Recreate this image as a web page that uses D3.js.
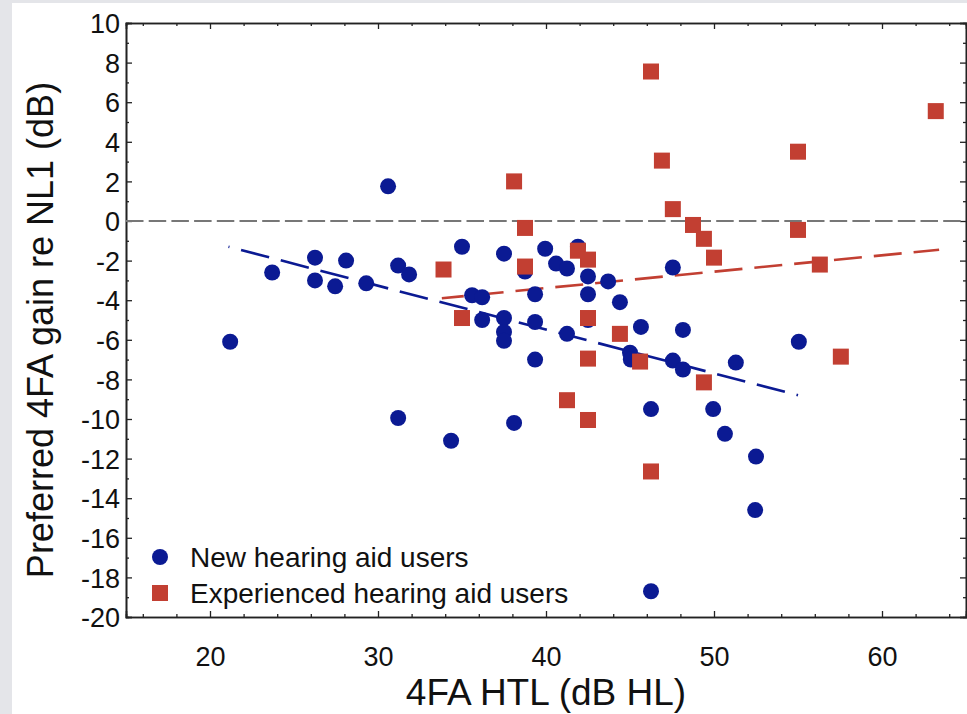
<!DOCTYPE html>
<html>
<head>
<meta charset="utf-8">
<script src="https://cdn.jsdelivr.net/npm/d3@7"></script>
<style>
  body { margin: 0; background: #e4e5e9; }
  svg { display: block; }
</style>
</head>
<body>
<svg id="chart" width="967" height="714"></svg>
<script>
// [4FA HTL, preferred gain re NL1]
const newUsers = [
  [21.2, -6.1], [23.7, -2.6], [26.25, -1.85], [26.25, -3.0], [27.45, -3.3],
  [28.1, -2.0], [29.3, -3.15], [30.6, 1.75], [31.2, -2.25], [31.85, -2.7],
  [31.2, -9.95], [34.35, -11.1], [35.0, -1.3], [35.6, -3.75], [36.2, -3.85],
  [36.2, -5.0], [37.5, -1.65], [37.5, -4.9], [37.5, -5.6], [37.5, -6.05],
  [38.1, -10.2], [38.75, -2.55], [39.35, -3.7], [39.35, -5.1], [39.35, -7.0],
  [39.95, -1.4], [40.6, -2.15], [41.25, -2.4], [41.25, -5.7], [41.9, -1.3],
  [42.5, -2.8], [42.5, -3.7], [42.5, -5.0], [43.7, -3.05], [44.4, -4.1],
  [45.0, -6.65], [45.05, -7.0], [45.65, -5.35], [46.25, -9.5], [46.25, -18.7],
  [47.55, -2.35], [47.55, -7.05], [48.15, -5.5], [48.15, -7.5], [49.95, -9.5],
  [50.65, -10.75], [51.3, -7.15], [52.5, -11.9], [52.45, -14.6], [55.05, -6.1]
];
const expUsers = [
  [33.9, -2.45], [35.0, -4.9], [38.1, 2.0], [38.75, -0.35], [38.75, -2.3],
  [41.25, -9.05], [41.9, -1.5], [42.5, -1.95], [42.5, -4.9], [42.5, -6.95],
  [42.5, -10.05], [44.4, -5.7], [45.6, -7.1], [46.25, 7.55], [46.25, -12.65],
  [46.9, 3.05], [47.55, 0.6], [48.75, -0.2], [49.4, -0.9], [49.4, -8.15],
  [50.0, -1.85], [55.0, 3.5], [55.0, -0.45], [56.3, -2.2], [57.55, -6.85],
  [63.2, 5.55]
];
// fitted trend lines (end points)
const fitNew = [[21.1, -1.3], [55.0, -8.8]];
const fitExp = [[33.8, -3.9], [63.4, -1.45]];

const xTicks = [20, 30, 40, 50, 60];
const xMinor = [16, 18, 22, 24, 26, 28, 32, 34, 36, 38, 42, 44, 46, 48, 52, 54, 56, 58, 62, 64];
const yTicks = [-20, -18, -16, -14, -12, -10, -8, -6, -4, -2, 0, 2, 4, 6, 8, 10];
const yMinor = [-19, -17, -15, -13, -11, -9, -7, -5, -3, -1, 1, 3, 5, 7, 9];

const legendLabels = ['New hearing aid users', 'Experienced hearing aid users'];
const blue = '#0b1a93';
const red = '#c23f32';

(() => {
  const margin = {top: 23, right: 1, bottom: 97, left: 126};
  const totalWidth = 967;
  const totalHeight = 714;
  const w = totalWidth - margin.left - margin.right;
  const h = totalHeight - margin.top - margin.bottom;

  const svg = d3.select('#chart');
  svg.append('rect')
    .attr('x', 12).attr('y', 3)
    .attr('width', totalWidth - 12).attr('height', totalHeight - 3)
    .attr('fill', '#fff');

  const g = svg.append('g').attr('transform', 'translate(' + margin.left + ',' + margin.top + ')');

  const x = d3.scaleLinear().domain([15, 65]).range([0, w]);
  const y = d3.scaleLinear().domain([-20, 10]).range([h, 0]);

  const font = 'Arial, "Liberation Sans", sans-serif';
  const tickFont = '"Liberation Sans Narrow", "Arial Narrow", Arial, sans-serif';
  const plain = d => String(d);   // hyphen minus, like the original

  // minor ticks
  g.append('g').attr('transform', 'translate(0,' + h + ')')
    .call(d3.axisBottom(x).tickValues(xMinor).tickSize(-3).tickFormat(''));
  g.append('g')
    .call(d3.axisTop(x).tickValues(xMinor).tickSize(-3).tickFormat(''));
  g.append('g')
    .call(d3.axisLeft(y).tickValues(yMinor).tickSize(-3).tickFormat(''));
  g.append('g').attr('transform', 'translate(' + w + ',0)')
    .call(d3.axisRight(y).tickValues(yMinor).tickSize(-3).tickFormat(''));

  // major ticks + labels
  const xAxis = g.append('g').attr('transform', 'translate(0,' + h + ')')
    .call(d3.axisBottom(x).tickValues(xTicks).tickSize(-6).tickPadding(30).tickFormat(plain));
  g.append('g')
    .call(d3.axisTop(x).tickValues(xTicks).tickSize(-6).tickFormat(''));
  const yAxis = g.append('g')
    .call(d3.axisLeft(y).tickValues(yTicks).tickSize(-6).tickPadding(6).tickFormat(plain));
  g.append('g').attr('transform', 'translate(' + w + ',0)')
    .call(d3.axisRight(y).tickValues(yTicks).tickSize(-6).tickFormat(''));

  g.selectAll('.domain').attr('stroke', '#222').attr('stroke-width', 1.6);
  g.selectAll('.tick line').attr('stroke', '#222').attr('stroke-width', 1.3);
  [xAxis, yAxis].forEach(a => a.selectAll('text')
    .attr('font-family', tickFont).attr('font-size', 27).attr('fill', '#111'));
  yAxis.selectAll('text').attr('dy', '0.36em');

  // zero reference line
  g.append('line')
    .attr('x1', 0).attr('x2', w)
    .attr('y1', y(0)).attr('y2', y(0))
    .attr('stroke', '#777').attr('stroke-width', 2)
    .attr('stroke-dasharray', '17.5,5.2');

  const line = d3.line().x(d => x(d[0])).y(d => y(d[1]));
  g.append('path').datum(fitNew).attr('d', line)
    .attr('fill', 'none').attr('stroke', blue).attr('stroke-width', 2.6)
    .attr('stroke-dasharray', '29,12').attr('stroke-dashoffset', 28);
  g.append('path').datum(fitExp).attr('d', line)
    .attr('fill', 'none').attr('stroke', red).attr('stroke-width', 2.6)
    .attr('stroke-dasharray', '28,12').attr('stroke-dashoffset', 6);

  // points
  g.append('g').selectAll('circle').data(newUsers).join('circle')
    .attr('cx', d => x(d[0])).attr('cy', d => y(d[1])).attr('r', 8)
    .attr('fill', blue);
  g.append('g').selectAll('rect').data(expUsers).join('rect')
    .attr('x', d => x(d[0]) - 8).attr('y', d => y(d[1]) - 8)
    .attr('width', 16).attr('height', 16)
    .attr('fill', red);

  // legend
  const lg = svg.append('g').attr('transform', 'translate(160,557)');
  lg.append('circle').attr('cx', 0).attr('cy', 0).attr('r', 8).attr('fill', blue);
  lg.append('rect').attr('x', -8).attr('y', 28).attr('width', 16).attr('height', 16).attr('fill', red);
  lg.selectAll('text').data(legendLabels).join('text')
    .attr('x', 30).attr('y', (d, i) => i * 36 + 10)
    .attr('font-family', font).attr('font-size', 28).attr('fill', '#111')
    .text(d => d);

  // axis titles
  svg.append('text')
    .attr('x', margin.left + x(40.0)).attr('y', 705)
    .attr('text-anchor', 'middle')
    .attr('font-family', font).attr('font-size', 37).attr('fill', '#111')
    .text('4FA HTL (dB HL)');
  svg.append('text')
    .attr('transform', 'translate(53,330) rotate(-90)')
    .attr('text-anchor', 'middle')
    .attr('font-family', font).attr('font-size', 36).attr('fill', '#111')
    .text('Preferred 4FA gain re NL1 (dB)');
})();
</script>
</body>
</html>
